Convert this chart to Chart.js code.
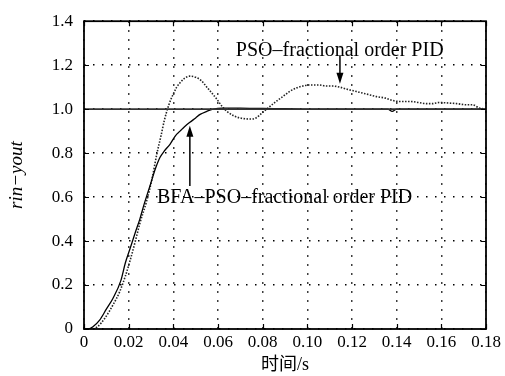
<!DOCTYPE html>
<html>
<head>
<meta charset="utf-8">
<script src="https://cdn.jsdelivr.net/npm/chart.js@4/dist/chart.umd.min.js"></script>
<style>
  html, body { margin: 0; padding: 0; background: #fff; }
  canvas { display: block; }
</style>
</head>
<body>
<canvas id="stepChart" width="505" height="376"></canvas>
<script>
// step response data
const xTicks = [0, 0.02, 0.04, 0.06, 0.08, 0.10, 0.12, 0.14, 0.16, 0.18];
const xTickLabels = ['0', '0.02', '0.04', '0.06', '0.08', '0.10', '0.12', '0.14', '0.16', '0.18'];
const yTicks = [0, 0.2, 0.4, 0.6, 0.8, 1.0, 1.2, 1.4];
const yTickLabels = ['0', '0.2', '0.4', '0.6', '0.8', '1.0', '1.2', '1.4'];

// rin (reference input)
const rinT = [0, 0.18];
const rinY = [1, 1];

// PSO-fractional order PID (dotted)
const psoT = [0, 0.003, 0.006, 0.0094, 0.013, 0.016, 0.0185, 0.0206, 0.023, 0.025, 0.028, 0.0304, 0.0327, 0.0345, 0.036, 0.038, 0.0398, 0.0415, 0.043, 0.045, 0.0474, 0.050, 0.0525, 0.055, 0.0575, 0.0595, 0.062, 0.064, 0.067, 0.0698, 0.0743, 0.077, 0.080, 0.083, 0.086, 0.089, 0.092, 0.0953, 0.098, 0.101, 0.105, 0.1087, 0.1115, 0.1146, 0.118, 0.122, 0.126, 0.131, 0.135, 0.138, 0.141, 0.146, 0.150, 0.1535, 0.156, 0.159, 0.163, 0.167, 0.171, 0.174, 0.177, 0.18];
const psoY = [0, 0, 0.01, 0.05, 0.11, 0.17, 0.24, 0.31, 0.40, 0.48, 0.58, 0.68, 0.80, 0.88, 0.95, 1.02, 1.065, 1.10, 1.12, 1.14, 1.15, 1.145, 1.13, 1.10, 1.07, 1.045, 1.01, 0.99, 0.97, 0.96, 0.955, 0.96, 0.985, 1.01, 1.035, 1.057, 1.08, 1.097, 1.105, 1.11, 1.11, 1.105, 1.105, 1.10, 1.09, 1.08, 1.07, 1.057, 1.05, 1.04, 1.035, 1.035, 1.03, 1.025, 1.025, 1.03, 1.028, 1.025, 1.02, 1.02, 1.005, 1.0];

// BFA-PSO-fractional order PID (solid)
const bfaT = [0, 0.002, 0.004, 0.007, 0.010, 0.013, 0.0165, 0.0185, 0.0206, 0.023, 0.025, 0.027, 0.0295, 0.032, 0.034, 0.036, 0.0385, 0.041, 0.043, 0.045, 0.0474, 0.050, 0.052, 0.055, 0.0578, 0.062, 0.07, 0.08, 0.09, 0.10, 0.12, 0.136, 0.138, 0.140, 0.16, 0.18];
const bfaY = [0, 0, 0.01, 0.04, 0.09, 0.14, 0.22, 0.30, 0.365, 0.44, 0.50, 0.57, 0.65, 0.73, 0.78, 0.81, 0.84, 0.88, 0.90, 0.92, 0.94, 0.96, 0.976, 0.99, 1.0, 1.005, 1.005, 1.003, 1.002, 1.0, 1.0, 1.0, 0.99, 1.0, 1.0, 1.0];

// annotation labels and arrows, in data units
const labelPso = { text: 'PSO\u2013fractional order PID', x: 0.068, y: 1.266 };
const labelBfa = { text: 'BFA\u2013PSO\u2013fractional order PID', x: 0.0327, y: 0.597 };
const arrowPso = { x: 0.1146, from: 1.245, to: 1.115 };
const arrowBfa = { x: 0.0474, from: 0.65, to: 0.925 };

const serif = '"Liberation Serif", "Times New Roman", serif';

const pts = (t, y) => t.map((v, i) => ({ x: v, y: y[i] }));

function arrow(ctx, x, y0, y1) {
  const dir = y1 > y0 ? 1 : -1;
  ctx.beginPath();
  ctx.moveTo(x, y0);
  ctx.lineTo(x, y1 - dir * 8);
  ctx.stroke();
  ctx.beginPath();
  ctx.moveTo(x, y1);
  ctx.lineTo(x - 3.5, y1 - dir * 11);
  ctx.lineTo(x + 3.5, y1 - dir * 11);
  ctx.closePath();
  ctx.fill();
}

// box, inward ticks and the two labelled arrows
const framePlugin = {
  id: 'frame',
  afterDatasetsDraw(chart) {
    const { ctx, chartArea: a, scales } = chart;
    const sx = scales.x, sy = scales.y;
    ctx.save();
    ctx.strokeStyle = '#000';
    ctx.fillStyle = '#000';
    ctx.lineWidth = 1.2;
    ctx.beginPath();
    xTicks.forEach(v => {
      const px = Math.round(sx.getPixelForValue(v)) + 0.5;
      ctx.moveTo(px, a.bottom); ctx.lineTo(px, a.bottom - 5);
      ctx.moveTo(px, a.top); ctx.lineTo(px, a.top + 5);
    });
    yTicks.forEach(v => {
      const py = Math.round(sy.getPixelForValue(v)) + 0.5;
      ctx.moveTo(a.left, py); ctx.lineTo(a.left + 5, py);
      ctx.moveTo(a.right, py); ctx.lineTo(a.right - 5, py);
    });
    ctx.stroke();
    ctx.lineWidth = 1.8;
    ctx.strokeRect(a.left, a.top, a.right - a.left, a.bottom - a.top);

    ctx.lineWidth = 1.5;
    arrow(ctx, sx.getPixelForValue(arrowPso.x), sy.getPixelForValue(arrowPso.from), sy.getPixelForValue(arrowPso.to));
    arrow(ctx, sx.getPixelForValue(arrowBfa.x), sy.getPixelForValue(arrowBfa.from), sy.getPixelForValue(arrowBfa.to));

    ctx.font = '20px ' + serif;
    ctx.textBaseline = 'middle';
    ctx.textAlign = 'left';
    [labelPso, labelBfa].forEach(l => {
      ctx.fillText(l.text, sx.getPixelForValue(l.x), sy.getPixelForValue(l.y));
    });
    ctx.restore();
  }
};

const ctx = document.getElementById('stepChart').getContext('2d');

new Chart(ctx, {
  type: 'line',
  data: {
    datasets: [
      {
        label: 'rin',
        data: pts(rinT, rinY),
        borderColor: '#333',
        borderWidth: 1.8,
        pointRadius: 0
      },
      {
        label: 'BFA-PSO-fractional order PID',
        data: pts(bfaT, bfaY),
        borderColor: '#000',
        borderWidth: 1.3,
        pointRadius: 0,
        cubicInterpolationMode: 'monotone'
      },
      {
        label: 'PSO-fractional order PID',
        data: pts(psoT, psoY),
        borderColor: '#222',
        borderWidth: 1.6,
        borderDash: [1.5, 1.5],
        pointRadius: 0,
        cubicInterpolationMode: 'monotone'
      }
    ]
  },
  options: {
    responsive: false,
    animation: false,
    devicePixelRatio: 1,
    layout: { padding: { top: 15, right: 19, left: 0, bottom: 0 } },
    plugins: {
      legend: { display: false },
      tooltip: { enabled: false }
    },
    scales: {
      x: {
        type: 'linear',
        min: 0,
        max: 0.18,
        afterBuildTicks: s => { s.ticks = xTicks.map(v => ({ value: v })); },
        afterFit: s => { s.height = 47; },
        ticks: {
          callback: (v, i) => xTickLabels[i],
          color: '#000',
          font: { family: serif, size: 17 },
          padding: 3,
          maxRotation: 0,
          autoSkip: false
        },
        grid: { color: '#000', lineWidth: 1.5, drawTicks: false },
        border: { display: false, dash: [1.5, 7.5] },
        title: {
          display: true,
          text: '时间/s',
          color: '#000',
          font: { family: serif + ', "Noto Sans CJK SC"', size: 18 },
          padding: { top: 0, bottom: 0 }
        }
      },
      y: {
        min: 0,
        max: 1.4,
        afterBuildTicks: s => { s.ticks = yTicks.map(v => ({ value: v })); },
        afterFit: s => { s.width = 84; },
        ticks: {
          callback: (v, i) => yTickLabels[i],
          color: '#000',
          font: { family: serif, size: 17 },
          padding: 11
        },
        grid: { color: '#000', lineWidth: 1.5, drawTicks: false },
        border: { display: false, dash: [1.5, 7.5] },
        title: {
          display: true,
          text: 'rin\u2212yout',
          color: '#000',
          font: { family: serif, size: 19, style: 'italic' },
          padding: { top: 6, bottom: 0 }
        }
      }
    }
  },
  plugins: [framePlugin]
});
</script>
</body>
</html>
